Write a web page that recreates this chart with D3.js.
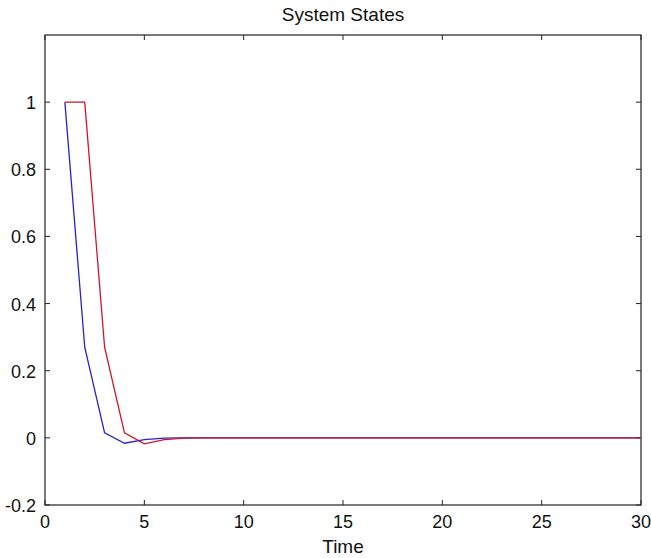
<!DOCTYPE html>
<html>
<head>
<meta charset="utf-8">
<script src="https://d3js.org/d3.v7.min.js"></script>
<style>
body{margin:0;background:#fff}
text{font-family:"Liberation Sans",Arial,sans-serif;fill:#111}
</style>
</head>
<body>
<div id="chart"></div>
<script>
var width = 651
var height = 558
var margin = {top:35,right:10,bottom:53,left:45}

// data
var time = [1,2,3,4,5,6,7,8,9,10,11,12,13,14,15,16,17,18,19,20,21,22,23,24,25,26,27,28,29,30]
var stateBlue = [1,0.27,0.015,-0.016,-0.005,-0.001,0,0,0,0,0,0,0,0,0,0,0,0,0,0,0,0,0,0,0,0,0,0,0,0]
var stateRed = [1,1,0.27,0.015,-0.018,-0.005,-0.001,0,0,0,0,0,0,0,0,0,0,0,0,0,0,0,0,0,0,0,0,0,0,0]
var xTicks = [0,5,10,15,20,25,30]
var yTicks = [-0.2,0,0.2,0.4,0.6,0.8,1]

var svg = d3.select("#chart").append("svg")
	.attr("width",width)
	.attr("height",height)

var x = d3.scaleLinear().domain([0,30]).range([margin.left,margin.left+596])
var y = d3.scaleLinear().domain([-0.2,1.2]).range([height-margin.bottom,margin.top])
var plotW = x(30)-x(0)
var plotH = y(-0.2)-y(1.2)

// frame
svg.append("rect")
	.attr("x",x(0)).attr("y",y(1.2))
	.attr("width",plotW).attr("height",plotH)
	.attr("fill","none").attr("stroke","#222").attr("stroke-width",1.2)

// ticks, inside on all four sides
var tickLen = 5
xTicks.forEach(function(t){
	svg.append("line").attr("x1",x(t)).attr("x2",x(t)).attr("y1",y(-0.2)).attr("y2",y(-0.2)-tickLen).attr("stroke","#222")
	svg.append("line").attr("x1",x(t)).attr("x2",x(t)).attr("y1",y(1.2)).attr("y2",y(1.2)+tickLen).attr("stroke","#222")
	svg.append("text").attr("x",x(t)).attr("y",y(-0.2)+23)
		.attr("text-anchor","middle").style("font-size","18px").text(t)
})
yTicks.forEach(function(t){
	svg.append("line").attr("x1",x(0)).attr("x2",x(0)+tickLen).attr("y1",y(t)).attr("y2",y(t)).attr("stroke","#222")
	svg.append("line").attr("x1",x(30)).attr("x2",x(30)-tickLen).attr("y1",y(t)).attr("y2",y(t)).attr("stroke","#222")
	svg.append("text").attr("x",x(0)-9).attr("y",y(t)+7)
		.attr("text-anchor","end").style("font-size","18px").text(t)
})

var line = d3.line()
	.x(function(d,i){return x(time[i])})
	.y(function(d){return y(d)})

svg.append("path").datum(stateBlue)
	.attr("d",line).attr("fill","none").attr("stroke","#2424c8").attr("stroke-width",1.3)
svg.append("path").datum(stateRed)
	.attr("d",line).attr("fill","none").attr("stroke","#d0142c").attr("stroke-width",1.3)

svg.append("text").attr("x",x(15)).attr("y",21)
	.attr("text-anchor","middle").style("font-size","19px").text("System States")
svg.append("text").attr("x",x(15)).attr("y",553)
	.attr("text-anchor","middle").style("font-size","19px").text("Time")
</script>
</body>
</html>
